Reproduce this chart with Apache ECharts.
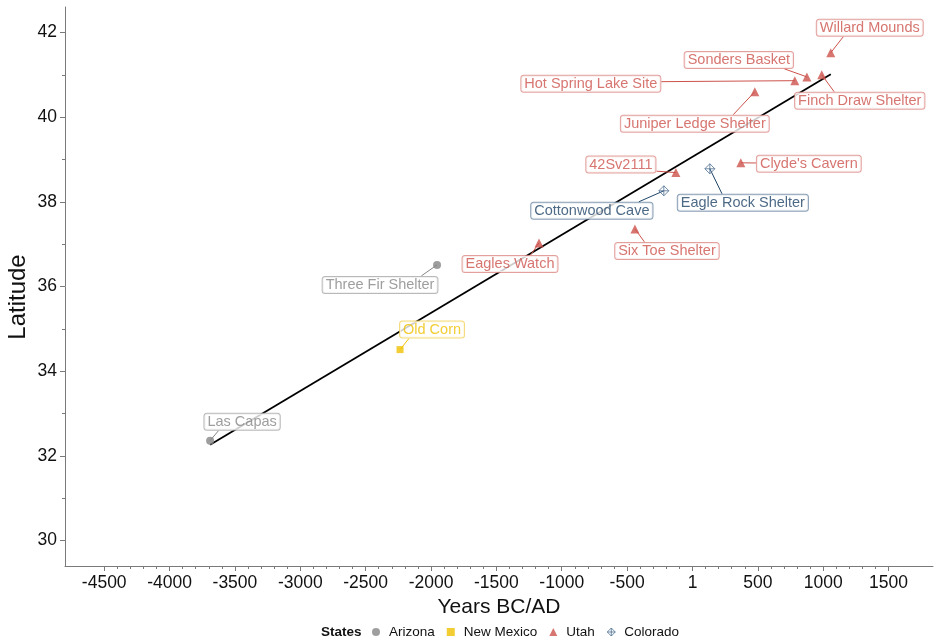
<!DOCTYPE html>
<html>
<head>
<meta charset="utf-8">
<title>Years BC/AD vs Latitude</title>
<script src="https://cdn.jsdelivr.net/npm/echarts@6/dist/echarts.min.js"></script>
<style>
  html, body { margin: 0; padding: 0; background: #ffffff; }
  #chart { width: 934px; height: 641px; }
</style>
</head>
<body>
<div id="chart"></div>
<script>
// Archaeological sites: calibrated age (years BC/AD) against latitude
const sites = ['Las Capas', 'Three Fir Shelter', 'Old Corn', 'Eagles Watch', '42Sv2111',
  'Cottonwood Cave', 'Eagle Rock Shelter', "Clyde's Cavern", 'Six Toe Shelter',
  'Willard Mounds', 'Sonders Basket', 'Hot Spring Lake Site', 'Finch Draw Shelter',
  'Juniper Ledge Shelter'];
const siteStates = ['Arizona', 'Arizona', 'New Mexico', 'Utah', 'Utah',
  'Colorado', 'Colorado', 'Utah', 'Utah',
  'Utah', 'Utah', 'Utah', 'Utah',
  'Utah'];
const years = [-3690, -1954, -2237, -1174, -127, -219, 133, 370, -440, 1058, 875, 783, 989, 477];
const latitudes = [32.36, 36.51, 34.51, 37.03, 38.69, 38.26, 38.78, 38.92, 37.36, 41.52, 40.95, 40.86, 41.0, 40.6];

const stateNames = ['Arizona', 'New Mexico', 'Utah', 'Colorado'];
const xTickValues = [-4500, -4000, -3500, -3000, -2500, -2000, -1500, -1000, -500, 1, 500, 1000, 1500];
const yTickValues = [30, 32, 34, 36, 38, 40, 42];

// styling per state
const stateColors = { 'Arizona': '#868686', 'New Mexico': '#EFC000', 'Utah': '#CD534C', 'Colorado': '#1F4468' };
const stateBorder = { 'Arizona': '#a8a8a8', 'New Mexico': '#f3d25a', 'Utah': '#dc8986', 'Colorado': '#6a86a3' };
const stateSymbols = {
  'Arizona': 'circle',
  'New Mexico': 'rect',
  'Utah': 'triangle',
  'Colorado': 'path://M0,-1L1,0L0,1L-1,0ZM0,-1L0,1M-1,0L1,0'
};
const stateSymbolSize = { 'Arizona': 8, 'New Mexico': 7, 'Utah': 9, 'Colorado': 10 };
const hollowStyle = { color: 'rgba(255,255,255,0)', borderColor: '#4d6f92', borderWidth: 1 };

// repelled label placement (pixel offset of the label box centre from its point)
const labelOffsets = {
  'Las Capas': [32, -19],
  'Three Fir Shelter': [-57, 20],
  'Old Corn': [32, -20],
  'Eagles Watch': [-29, 21],
  '42Sv2111': [-55, -8],
  'Cottonwood Cave': [-72, 20],
  'Eagle Rock Shelter': [33, 34],
  "Clyde's Cavern": [68, 1],
  'Six Toe Shelter': [32, 22],
  'Willard Mounds': [39, -25],
  'Sonders Basket': [-68, -17],
  'Hot Spring Lake Site': [-204, 3],
  'Finch Draw Shelter': [38, 26],
  'Juniper Ledge Shelter': [-60, 32]
};

const FONT = '"Liberation Sans", Arial, Helvetica, sans-serif';
const LABEL_SIZE = 14.5;
const LABEL_PAD = [1, 3, 0, 3];
const LABEL_LINE_H = 15;

// least-squares fit over all sites
function linearFit(xs, ys) {
  const n = xs.length;
  const mx = xs.reduce((a, b) => a + b, 0) / n;
  const my = ys.reduce((a, b) => a + b, 0) / n;
  let sxy = 0, sxx = 0;
  for (let i = 0; i < n; i++) {
    sxy += (xs[i] - mx) * (ys[i] - my);
    sxx += (xs[i] - mx) * (xs[i] - mx);
  }
  const slope = sxy / sxx;
  return { slope, intercept: my - slope * mx };
}
const fit = linearFit(years, latitudes);
const xLo = Math.min.apply(null, years);
const xHi = Math.max.apply(null, years);
const fitLine = [[xLo, fit.intercept + fit.slope * xLo], [xHi, fit.intercept + fit.slope * xHi]];

function minorBetween(majors, step) {
  const out = [];
  for (let i = 0; i < majors.length - 1; i++) {
    const a = majors[i] === 1 ? 0 : majors[i];
    const b = majors[i + 1] === 1 ? 0 : majors[i + 1];
    for (let v = a + step; v < b - step / 2; v += step) out.push(v);
  }
  return out;
}
const xMinorTicks = minorBetween(xTickValues, 100);
const yMinorTicks = [31, 33, 35, 37, 39, 41];

const axisGray = '#7a7a7a';

// text measuring for the label boxes, used to end the leader segments
const measureCtx = document.createElement('canvas').getContext('2d');
measureCtx.font = LABEL_SIZE + 'px ' + FONT;
function labelHalfSize(text) {
  const w = measureCtx.measureText(text).width + LABEL_PAD[1] + LABEL_PAD[3] + 2;
  const h = LABEL_LINE_H + LABEL_PAD[0] + LABEL_PAD[2] + 2;
  return [w / 2, h / 2];
}

// leader segment from a point to its label box: the end sits between where the
// ray to the box centre meets the box and the box point nearest to the mark
function renderLeader(params, api) {
  const idx = api.value(2);
  const name = sites[idx];
  const p = api.coord([api.value(0), api.value(1)]);
  const off = labelOffsets[name];
  const half = labelHalfSize(name);
  const dx = off[0], dy = off[1];
  const tx = Math.abs(dx) > 1e-6 ? 1 - half[0] / Math.abs(dx) : -Infinity;
  const ty = Math.abs(dy) > 1e-6 ? 1 - half[1] / Math.abs(dy) : -Infinity;
  const t = Math.max(tx, ty);
  if (t <= 0) return null;
  const cx = p[0] + dx, cy = p[1] + dy;
  const rayEnd = [p[0] + dx * t, p[1] + dy * t];
  const nearEnd = [
    Math.min(Math.max(p[0], cx - half[0]), cx + half[0]),
    Math.min(Math.max(p[1], cy - half[1]), cy + half[1])
  ];
  return {
    type: 'line',
    shape: {
      x1: p[0], y1: p[1],
      x2: (rayEnd[0] + nearEnd[0]) / 2, y2: (rayEnd[1] + nearEnd[1]) / 2
    },
    style: { stroke: stateColors[siteStates[idx]], lineWidth: 1 },
    silent: true
  };
}

const scatterSeries = stateNames.map(function (state) {
  const data = [];
  sites.forEach(function (name, i) {
    if (siteStates[i] === state) data.push({ name: name, value: [years[i], latitudes[i]] });
  });
  const hollow = state === 'Colorado';
  return {
    name: state,
    type: 'scatter',
    zlevel: 1,
    z: 5,
    symbol: stateSymbols[state],
    symbolSize: stateSymbolSize[state],
    itemStyle: hollow ? hollowStyle : { color: stateColors[state] },
    data: data,
    label: {
      show: true,
      position: 'inside',
      formatter: '{b}',
      color: stateColors[state],
      fontFamily: FONT,
      fontSize: LABEL_SIZE,
      lineHeight: LABEL_LINE_H,
      backgroundColor: '#ffffff',
      borderColor: stateBorder[state],
      borderWidth: 1,
      borderRadius: 2.5,
      padding: LABEL_PAD
    },
    labelLayout: function (p) {
      const off = labelOffsets[data[p.dataIndex].name] || [0, 0];
      return { dx: off[0], dy: off[1], hideOverlap: false };
    },
    emphasis: { disabled: true }
  };
});

const leaderData = sites.map(function (name, i) { return [years[i], latitudes[i], i]; });

const option = {
  backgroundColor: '#ffffff',
  animation: false,
  grid: { left: 65, right: 1, top: 7, bottom: 75, containLabel: false },
  xAxis: [
    {
      type: 'value',
      min: -4800,
      max: 1840,
      name: 'Years BC/AD',
      nameLocation: 'middle',
      nameGap: 31,
      nameTextStyle: { color: '#111', fontSize: 21, fontFamily: FONT },
      splitLine: { show: false },
      axisLine: { show: true, onZero: false, lineStyle: { color: axisGray, width: 1 } },
      axisTick: { show: true, length: 5, customValues: xTickValues, lineStyle: { color: axisGray } },
      axisLabel: {
        customValues: xTickValues, color: '#111', fontSize: 17.5, fontFamily: FONT, margin: 8,
        formatter: function (v) { return String(v); }
      }
    },
    {
      type: 'value',
      position: 'bottom',
      min: -4800,
      max: 1840,
      splitLine: { show: false },
      axisLine: { show: false, onZero: false },
      axisTick: { show: true, length: 3, customValues: xMinorTicks, lineStyle: { color: axisGray } },
      axisLabel: { show: false }
    }
  ],
  yAxis: [
    {
      type: 'value',
      min: 29.4,
      max: 42.6,
      splitLine: { show: false },
      axisLine: { show: true, onZero: false, lineStyle: { color: axisGray, width: 1 } },
      axisTick: { show: true, length: 5, customValues: yTickValues, lineStyle: { color: axisGray } },
      axisLabel: {
        customValues: yTickValues, color: '#111', fontSize: 17.5, fontFamily: FONT, margin: 8,
        formatter: function (v) { return String(v); }
      }
    },
    {
      type: 'value',
      position: 'left',
      min: 29.4,
      max: 42.6,
      splitLine: { show: false },
      axisLine: { show: false, onZero: false },
      axisTick: { show: true, length: 3, customValues: yMinorTicks, lineStyle: { color: axisGray } },
      axisLabel: { show: false }
    }
  ],
  legend: {
    data: stateNames.map(function (s) {
      return s === 'Colorado' ? { name: s, itemStyle: hollowStyle } : { name: s };
    }),
    orient: 'horizontal',
    left: 372,
    top: 625,
    padding: 0,
    itemWidth: 8,
    itemHeight: 8,
    itemGap: 12,
    textStyle: { color: '#111', fontSize: 13.5, fontFamily: FONT, padding: [0, 0, 0, 4] }
  },
  graphic: [
    {
      type: 'text',
      left: 321,
      top: 625,
      style: { text: 'States', fill: '#111', fontSize: 13.5, fontWeight: 'bold', fontFamily: FONT }
    },
    {
      type: 'text',
      x: 18,
      y: 297,
      rotation: Math.PI / 2,
      style: {
        text: 'Latitude', fill: '#111', fontSize: 24, fontFamily: FONT,
        align: 'center', verticalAlign: 'middle'
      }
    }
  ],
  series: [
    {
      name: 'fit',
      type: 'line',
      z: 1,
      silent: true,
      symbol: 'none',
      data: fitLine,
      lineStyle: { color: '#000000', width: 1.8 },
      emphasis: { disabled: true }
    },
    {
      name: 'leaders',
      type: 'custom',
      z: 2,
      silent: true,
      data: leaderData,
      renderItem: renderLeader,
      clip: false
    }
  ].concat(scatterSeries)
};

const chart = echarts.init(document.getElementById('chart'), null, { renderer: 'canvas' });
chart.setOption(option);
</script>
</body>
</html>
